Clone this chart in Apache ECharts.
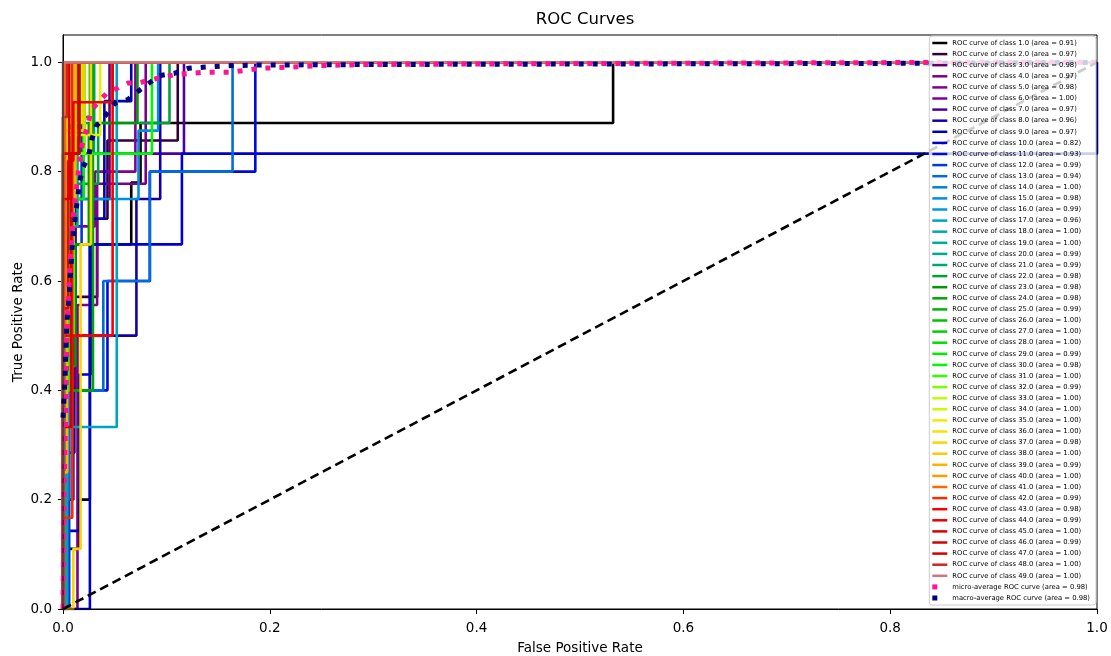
<!DOCTYPE html>
<html>
<head>
<meta charset="utf-8">
<script src="https://cdn.jsdelivr.net/npm/echarts@6/dist/echarts.min.js"></script>
<style>html,body{margin:0;padding:0;background:#fff}#chart{width:1111px;height:656px}</style>
</head>
<body>
<div id="chart"></div>
<script>
// ---------------- DATA ----------------
const classLabels = ['1.0','2.0','3.0','4.0','5.0','6.0','7.0','8.0','9.0','10.0','11.0','12.0','13.0','14.0','15.0','16.0','17.0','18.0','19.0','20.0','21.0','22.0','23.0','24.0','25.0','26.0','27.0','28.0','29.0','30.0','31.0','32.0','33.0','34.0','35.0','36.0','37.0','38.0','39.0','40.0','41.0','42.0','43.0','44.0','45.0','46.0','47.0','48.0','49.0'];
const classAreas = [0.91,0.97,0.98,0.97,0.98,1.00,0.97,0.96,0.97,0.82,0.93,0.99,0.94,1.00,0.98,0.99,0.96,1.00,1.00,0.99,0.99,0.98,0.98,0.98,0.99,1.00,1.00,1.00,0.99,0.98,1.00,0.99,1.00,1.00,1.00,1.00,0.98,1.00,0.99,1.00,1.00,0.99,0.98,0.99,1.00,0.99,1.00,1.00,1.00];
const microArea = 0.98;
const macroArea = 0.98;
const axisTicks = [0, 0.2, 0.4, 0.6, 0.8, 1.0];

const roc01 = [[0,0],[0,0.11],[0.015,0.11],[0.015,0.2],[0.026,0.2],[0.026,0.667],[0.066,0.667],[0.066,0.78],[0.075,0.78],[0.075,0.889],[0.532,0.889],[0.532,1],[1,1]];
const roc02 = [[0,0],[0,0.286],[0.011,0.286],[0.011,0.571],[0.033,0.571],[0.033,0.714],[0.043,0.714],[0.043,0.857],[0.111,0.857],[0.111,1],[1,1]];
const roc03 = [[0,0],[0,0.4],[0.012,0.4],[0.012,0.75],[0.045,0.75],[0.045,1],[1,1]];
const roc04 = [[0,0],[0.014,0],[0.014,0.556],[0.033,0.556],[0.033,0.778],[0.08,0.778],[0.08,1],[1,1]];
const roc05 = [[0,0],[0,0.5],[0.006,0.5],[0.006,0.7],[0.031,0.7],[0.031,0.8],[0.07,0.8],[0.07,1],[1,1]];
const roc06 = [[0,0],[0,0.75],[0.005,0.75],[0.005,1],[1,1]];
const roc07 = [[0,0],[0,0.5],[0.012,0.5],[0.012,0.833],[0.117,0.833],[0.117,1],[1,1]];
const roc08 = [[0,0],[0,0.5],[0.071,0.5],[0.071,0.75],[0.094,0.75],[0.094,1],[1,1]];
const roc09 = [[0,0],[0,0.143],[0.016,0.143],[0.016,0.429],[0.027,0.429],[0.027,0.714],[0.04,0.714],[0.04,0.929],[0.066,0.929],[0.066,1],[1,1]];
const roc10 = [[0,0],[0.026,0],[0.026,0.667],[0.115,0.667],[0.115,0.833],[1,0.833],[1,1]];
const roc11 = [[0,0],[0,0.2],[0.01,0.2],[0.01,0.4],[0.043,0.4],[0.043,0.6],[0.084,0.6],[0.084,0.8],[0.186,0.8],[0.186,1],[1,1]];
const roc12 = [[0,0],[0.006,0],[0.006,0.667],[0.018,0.667],[0.018,1],[1,1]];
const roc13 = [[0,0],[0,0.2],[0.006,0.2],[0.006,0.4],[0.039,0.4],[0.039,0.6],[0.084,0.6],[0.084,0.8],[0.164,0.8],[0.164,1],[1,1]];
const roc14 = [[0,0],[0,0.8],[0.004,0.8],[0.004,1],[1,1]];
const roc15 = [[0,0],[0,0.5],[0.004,0.5],[0.004,0.75],[0.073,0.75],[0.073,0.875],[0.092,0.875],[0.092,1],[1,1]];
const roc16 = [[0,0],[0,0.667],[0.008,0.667],[0.008,0.833],[0.03,0.833],[0.03,1],[1,1]];
const roc17 = [[0,0],[0.004,0],[0.004,0.333],[0.052,0.333],[0.052,1],[1,1]];
const roc18 = [[0,0],[0,0.6],[0.004,0.6],[0.004,1],[1,1]];
const roc19 = [[0,0],[0.002,0],[0.002,0.75],[0.005,0.75],[0.005,1],[1,1]];
const roc20 = [[0,0],[0,0.4],[0.006,0.4],[0.006,0.7],[0.014,0.7],[0.014,1],[1,1]];
const roc21 = [[0,0],[0,0.5],[0.008,0.5],[0.008,0.889],[0.03,0.889],[0.03,1],[1,1]];
const roc22 = [[0,0],[0,0.667],[0.01,0.667],[0.01,0.778],[0.034,0.778],[0.034,0.889],[0.103,0.889],[0.103,1],[1,1]];
const roc23 = [[0,0],[0,0.444],[0.012,0.444],[0.012,0.667],[0.025,0.667],[0.025,0.889],[0.072,0.889],[0.072,1],[1,1]];
const roc24 = [[0,0],[0,0.4],[0.029,0.4],[0.029,1],[1,1]];
const roc25 = [[0,0],[0,0.6],[0.01,0.6],[0.01,0.9],[0.026,0.9],[0.026,1],[1,1]];
const roc26 = [[0,0],[0,0.8],[0.012,0.8],[0.012,1],[1,1]];
const roc27 = [[0,0],[0,0.9],[0.014,0.9],[0.014,1],[1,1]];
const roc28 = [[0,0],[0,0.5],[0.003,0.5],[0.003,0.833],[0.016,0.833],[0.016,1],[1,1]];
const roc29 = [[0,0],[0,0.4],[0.006,0.4],[0.006,0.75],[0.02,0.75],[0.02,1],[1,1]];
const roc30 = [[0,0],[0,0.5],[0.01,0.5],[0.01,0.833],[0.086,0.833],[0.086,1],[1,1]];
const roc31 = [[0,0],[0,0.75],[0.006,0.75],[0.006,1],[1,1]];
const roc32 = [[0,0],[0,0.5],[0.01,0.5],[0.01,0.833],[0.021,0.833],[0.021,1],[1,1]];
const roc33 = [[0,0],[0,0.8],[0.004,0.8],[0.004,1],[1,1]];
const roc34 = [[0,0],[0,0.667],[0.003,0.667],[0.003,0.889],[0.018,0.889],[0.018,1],[1,1]];
const roc35 = [[0,0],[0,0.867],[0.036,0.867],[0.036,1],[1,1]];
const roc36 = [[0,0],[0,0.6],[0.003,0.6],[0.003,1],[1,1]];
const roc37 = [[0,0],[0.01,0],[0.01,0.11],[0.017,0.11],[0.017,0.667],[0.027,0.667],[0.027,1],[1,1]];
const roc38 = [[0,0],[0,0.875],[0.02,0.875],[0.02,1],[1,1]];
const roc39 = [[0,0],[0,0.25],[0.004,0.25],[0.004,0.75],[0.012,0.75],[0.012,1],[1,1]];
const roc40 = [[0,0],[0,0.75],[0.002,0.75],[0.002,1],[1,1]];
const roc41 = [[0,0],[0,0.5],[0.002,0.5],[0.002,1],[1,1]];
const roc42 = [[0,0],[0,0.167],[0.009,0.167],[0.009,1],[1,1]];
const roc43 = [[0,0],[0,0.5],[0.048,0.5],[0.048,1],[1,1]];
const roc44 = [[0,0],[0,0.55],[0.005,0.55],[0.005,0.82],[0.01,0.82],[0.01,0.927],[0.048,0.927],[0.048,1],[1,1]];
const roc45 = [[0,0],[0,0.75],[0.006,0.75],[0.006,1],[1,1]];
const roc46 = [[0,0],[0,0.333],[0.008,0.333],[0.008,0.833],[0.015,0.833],[0.015,1],[1,1]];
const roc47 = [[0,0],[0,0.833],[0.016,0.833],[0.016,1],[1,1]];
const roc48 = [[0,0],[0,0.9],[0.004,0.9],[0.004,1],[1,1]];
const roc49 = [[0,0],[0,1],[1,1]];

const microRoc = [[0,0],[0.0005,0.1],[0.001,0.2],[0.002,0.3],[0.003,0.4],[0.004,0.5],[0.005,0.56],[0.006,0.61],[0.008,0.67],[0.01,0.72],[0.013,0.77],[0.016,0.817],[0.019,0.854],[0.024,0.885],[0.027,0.912],[0.042,0.943],[0.052,0.952],[0.063,0.962],[0.074,0.963],[0.097,0.973],[0.11,0.978],[0.139,0.982],[0.163,0.982],[0.19,0.989],[0.217,0.991],[0.25,0.994],[0.29,0.996],[0.4,0.997],[0.53,0.998],[0.7,0.999],[0.9,1.0],[1,1]];
const macroRoc = [[0,0.35],[0.002,0.42],[0.003,0.48],[0.004,0.53],[0.006,0.574],[0.007,0.607],[0.008,0.634],[0.009,0.665],[0.012,0.72],[0.014,0.75],[0.016,0.78],[0.019,0.806],[0.025,0.83],[0.028,0.86],[0.032,0.883],[0.042,0.905],[0.05,0.925],[0.063,0.932],[0.074,0.949],[0.084,0.963],[0.094,0.976],[0.108,0.98],[0.121,0.989],[0.135,0.991],[0.163,0.994],[0.19,0.995],[0.3,0.996],[0.532,0.997],[0.8,0.998],[1,1]];
const chanceLine = [[0,0],[1,1]];

const rocCurves = [roc01,roc02,roc03,roc04,roc05,roc06,roc07,roc08,roc09,roc10,roc11,roc12,roc13,roc14,roc15,roc16,roc17,roc18,roc19,roc20,roc21,roc22,roc23,roc24,roc25,roc26,roc27,roc28,roc29,roc30,roc31,roc32,roc33,roc34,roc35,roc36,roc37,roc38,roc39,roc40,roc41,roc42,roc43,roc44,roc45,roc46,roc47,roc48,roc49];

// ---------------- STYLE ----------------
// matplotlib nipy_spectral colormap (21 evenly spaced anchors)
const NR=[0,0.4667,0.5333,0,0,0,0,0,0,0,0,0,0,0.7333,0.9333,1,1,1,0.8667,0.8,0.8];
const NG=[0,0,0,0,0,0.4667,0.6,0.6667,0.6667,0.6,0.7333,0.8667,1,1,0.9333,0.8,0.6,0,0,0,0.8];
const NB=[0,0.5333,0.6,0.6667,0.8667,0.8667,0.8667,0.6667,0.5333,0,0,0,0,0,0,0,0,0,0,0,0.8];
function nipy(t){
  const p=t*20; const i=Math.min(19,Math.floor(p)); const f=p-i;
  const c=a=>Math.round(255*(a[i]+(a[i+1]-a[i])*f));
  return 'rgb('+c(NR)+','+c(NG)+','+c(NB)+')';
}
const FONT='DejaVu Sans';
const n=classLabels.length;
const series=[]; const legendData=[];
const lineIcon='path://M0,1H18V4H0Z';
const dotIcon='path://M0,0H5V5H0Z M15,0 M15,5';
rocCurves.forEach((d,k)=>{
  const name='ROC curve of class '+classLabels[k]+' (area = '+classAreas[k].toFixed(2)+')';
  const col=nipy(k/(n));
  series.push({type:'line',name,data:d,showSymbol:false,symbol:'none',color:col,
    lineStyle:{width:2.6,color:col},z:2,silent:true});
  legendData.push({name,icon:lineIcon});
});
const microName='micro-average ROC curve (area = '+microArea.toFixed(2)+')';
const macroName='macro-average ROC curve (area = '+macroArea.toFixed(2)+')';
series.push({type:'line',name:microName,data:microRoc,showSymbol:false,symbol:'none',color:'#ff1493',
  lineStyle:{width:5,color:'#ff1493',type:[5,9],cap:'butt'},z:3,silent:true});
series.push({type:'line',name:macroName,data:macroRoc,showSymbol:false,symbol:'none',color:'#000080',
  lineStyle:{width:5,color:'#000080',type:[5,9],cap:'butt'},z:3,silent:true});
series.push({type:'line',name:'chance',data:chanceLine,showSymbol:false,symbol:'none',color:'#000',
  lineStyle:{width:2.6,color:'#000',type:[9,5]},z:3,silent:true});
legendData.push({name:microName,icon:dotIcon});
legendData.push({name:macroName,icon:dotIcon});

const chart=echarts.init(document.getElementById('chart'),null,{renderer:'canvas'});
chart.setOption({
  animation:false,
  backgroundColor:'#fff',
  textStyle:{fontFamily:FONT},
  title:{text:'ROC Curves',left:580,textAlign:'center',top:6,
    textStyle:{fontFamily:FONT,fontSize:16.5,fontWeight:'normal',color:'#000'}},
  grid:{left:63,right:14,top:35,bottom:47,show:true,z:10,borderColor:'#000',borderWidth:1,backgroundColor:'transparent',
    containLabel:false,outerBoundsMode:'none'},
  legend:{
    data:legendData, orient:'vertical', right:15, top:36,
    itemWidth:15, itemHeight:5, itemGap:3.1, symbolKeepAspect:true,
    padding:[3,6,3,3],
    backgroundColor:'rgba(255,255,255,0.8)', borderColor:'#cccccc', borderWidth:1, borderRadius:3,
    itemStyle:{borderWidth:0},
    textStyle:{fontFamily:FONT,fontSize:6.8,color:'#000',lineHeight:8},
    selectedMode:false, z:20
  },
  xAxis:{type:'value',min:0,max:1,interval:0.2,
    name:'False Positive Rate',nameLocation:'middle',nameGap:32,
    nameTextStyle:{fontFamily:FONT,fontSize:13.5,color:'#000'},
    axisLine:{show:true,onZero:false,lineStyle:{color:'#000',width:1}},
    axisTick:{show:true,inside:false,length:5,lineStyle:{color:'#000'}},
    axisLabel:{fontFamily:FONT,fontSize:13.5,color:'#000',margin:12,formatter:v=>v.toFixed(1)},
    splitLine:{show:false}},
  yAxis:{type:'value',min:0,max:1.05,
    name:'True Positive Rate',nameLocation:'middle',nameGap:38,nameMoveOverlap:false,
    nameTextStyle:{fontFamily:FONT,fontSize:13.5,color:'#000'},
    axisLine:{show:true,onZero:false,lineStyle:{color:'#000',width:1}},
    axisTick:{show:true,inside:false,length:5,lineStyle:{color:'#000'},customValues:axisTicks},
    axisLabel:{fontFamily:FONT,fontSize:13.5,color:'#000',margin:11,customValues:axisTicks,formatter:v=>v.toFixed(1)},
    splitLine:{show:false}},
  series
});
</script>
</body>
</html>
